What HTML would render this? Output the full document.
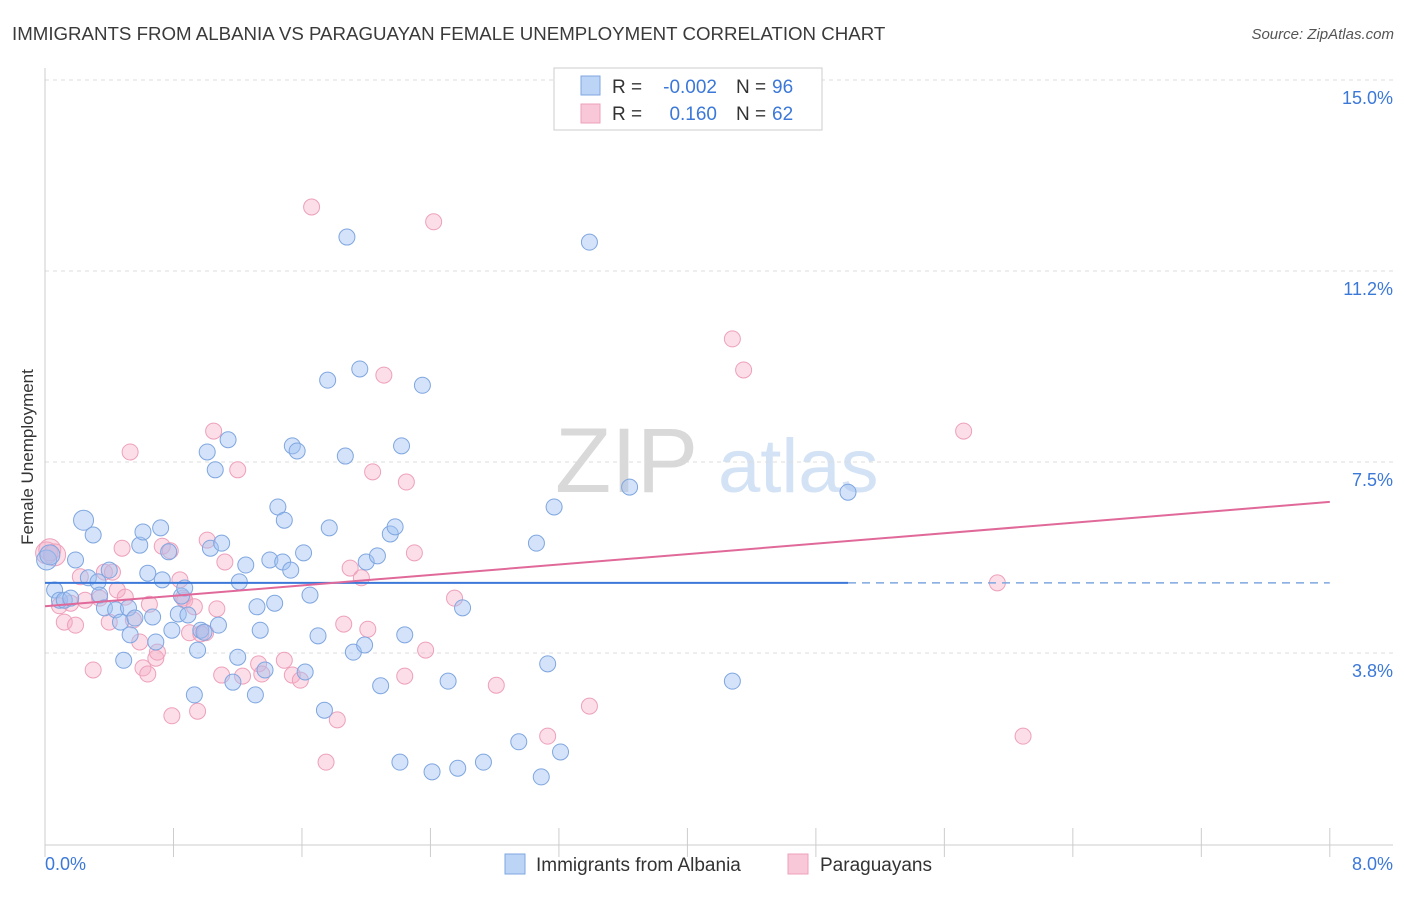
<!DOCTYPE html>
<html><head><meta charset="utf-8"><style>
body{margin:0;background:#fff;font-family:"Liberation Sans",sans-serif;}
svg text{font-family:"Liberation Sans",sans-serif;}
</style></head><body>
<svg id="chart" width="1406" height="892" viewBox="0 0 1406 892" xmlns="http://www.w3.org/2000/svg">
<text x="12" y="40" font-size="18.7" fill="#3a3a3a">IMMIGRANTS FROM ALBANIA VS PARAGUAYAN FEMALE UNEMPLOYMENT CORRELATION CHART</text>
<text x="1394" y="39" font-size="15" fill="#555" font-style="italic" text-anchor="end">Source: ZipAtlas.com</text>
<text x="33" y="457" font-size="17" fill="#333" text-anchor="middle" transform="rotate(-90 33 457)">Female Unemployment</text>
<g>
<text x="555" y="492" font-size="92" fill="#d9d9d9" font-family="Liberation Serif">ZIP</text>
<text x="718" y="492" font-size="76" fill="#d3e2f5">atlas</text>
</g>
<g id="grid"></g><g id="axes"></g><g id="pinkPts"></g><g id="bluePts"></g><g id="lines"></g>
<g>
<rect x="554" y="68" width="268" height="62" fill="#fff" stroke="#ccc"/>
<rect x="581" y="76" width="19" height="19" fill="#bcd4f6" stroke="#7fa6e0"/>
<text x="612" y="93" font-size="19" fill="#333">R =</text>
<text x="717" y="93" font-size="19" fill="#3b78d8" text-anchor="end">-0.002</text>
<text x="736" y="93" font-size="19" fill="#333">N =</text>
<text x="772" y="93" font-size="19" fill="#3b78d8">96</text>
<rect x="581" y="104" width="19" height="19" fill="#f8c8d8" stroke="#eea0bb"/>
<text x="612" y="120" font-size="19" fill="#333">R =</text>
<text x="717" y="120" font-size="19" fill="#3b78d8" text-anchor="end">0.160</text>
<text x="736" y="120" font-size="19" fill="#333">N =</text>
<text x="772" y="120" font-size="19" fill="#3b78d8">62</text>
</g>
<g>
<rect x="505" y="854" width="20" height="20" fill="#bcd4f6" stroke="#7fa6e0"/>
<text x="536" y="871" font-size="19" fill="#333">Immigrants from Albania</text>
<rect x="788" y="854" width="20" height="20" fill="#f8c8d8" stroke="#eea0bb"/>
<text x="820" y="871" font-size="19" fill="#333">Paraguayans</text>
</g>
</svg>
<script>
const yTicks=[15.0,11.25,7.5,3.75];
const yTickLabels=["15.0%","11.2%","7.5%","3.8%"];
const xTicks=[0,0.8,1.6,2.4,3.2,4.0,4.8,5.6,6.4,7.2,8.0];
const blueX=[0.01,0.03,0.06,0.09,0.12,0.16,0.19,0.24,0.27,0.30,0.33,0.34,0.37,0.40,0.44,0.47,0.49,0.52,0.53,0.56,0.59,0.61,0.64,0.67,0.69,0.72,0.73,0.77,0.79,0.83,0.85,0.87,0.89,0.93,0.95,0.97,0.99,1.01,1.03,1.06,1.08,1.10,1.14,1.17,1.20,1.21,1.25,1.31,1.32,1.34,1.37,1.40,1.43,1.45,1.48,1.49,1.53,1.54,1.57,1.61,1.62,1.65,1.70,1.74,1.76,1.77,1.87,1.88,1.92,1.96,1.99,2.00,2.07,2.09,2.15,2.18,2.21,2.22,2.24,2.35,2.41,2.51,2.57,2.60,2.73,2.95,3.06,3.09,3.13,3.17,3.21,3.39,3.64,4.28,5.00];
const blueY=[5.91,6.01,5.32,5.12,5.12,5.16,5.91,6.69,5.56,6.40,5.48,5.22,4.97,5.71,4.93,4.69,3.94,4.97,4.44,4.77,6.20,6.46,5.65,4.79,4.30,6.54,5.52,6.07,4.53,4.85,5.20,5.36,4.83,3.26,4.14,4.53,4.49,8.03,6.14,7.68,4.63,6.24,8.27,3.51,4.00,5.48,5.81,3.26,4.99,4.53,3.75,5.91,5.06,6.95,5.87,6.69,5.71,8.15,8.05,6.05,3.71,5.22,4.42,2.96,9.44,6.54,7.95,12.25,4.10,9.66,4.24,5.87,5.99,3.44,6.42,6.56,1.94,8.15,4.44,9.34,1.75,3.53,1.82,4.97,1.94,2.34,6.24,1.65,3.87,6.95,2.14,12.15,7.34,3.53,7.24];
const pinkX=[0.01,0.03,0.06,0.09,0.12,0.16,0.19,0.22,0.25,0.30,0.34,0.37,0.40,0.42,0.45,0.48,0.50,0.53,0.55,0.59,0.61,0.64,0.65,0.69,0.70,0.73,0.78,0.79,0.84,0.86,0.87,0.90,0.93,0.95,0.97,1.00,1.01,1.05,1.07,1.10,1.12,1.20,1.23,1.33,1.35,1.49,1.54,1.59,1.66,1.75,1.82,1.86,1.90,1.97,2.01,2.04,2.11,2.24,2.25,2.30,2.37,2.42,2.55,2.81,3.13,3.39,4.28,4.35,5.72,5.93,6.09];
const pinkY=[6.05,6.11,6.01,5.01,4.69,5.06,4.63,5.58,5.12,3.75,5.16,5.67,4.69,5.67,5.32,6.14,5.18,8.03,4.73,4.30,3.79,3.67,5.04,3.98,4.10,6.18,6.09,2.85,5.52,5.16,5.12,4.48,4.99,2.94,4.46,4.48,6.30,8.44,4.95,3.65,5.87,7.68,3.63,3.87,3.67,3.94,3.65,3.55,12.84,1.94,2.77,4.65,5.75,5.56,4.55,7.64,9.54,3.63,7.44,6.05,4.14,12.55,5.16,3.45,2.45,3.04,10.25,9.64,8.44,5.46,2.45];
const blueTrend=[5.46,5.46];
const pinkTrend=[5.00,7.05];
const blueTrendEnd=5.0;
const NS="http://www.w3.org/2000/svg";
const xS=v=>45+v*160.6;
const yS=v=>97+(15-v)*50.93;
function mk(parent,tag,attrs){const e=document.createElementNS(NS,tag);for(const k in attrs)e.setAttribute(k,attrs[k]);document.getElementById(parent).appendChild(e);return e;}
yTicks.forEach((t,i)=>{
 const g=mk('grid','line',{x1:45,x2:1393,y1:yS(t)-17,y2:yS(t)-17,stroke:'#dcdcdc','stroke-dasharray':'4 4'});
 
 
 const l=mk('axes','text',{x:1393,y:yS(t)+7,'font-size':18,fill:'#3b78d8','text-anchor':'end'});
 l.textContent=yTickLabels[i];
 
 
});
const ax=mk('axes','line',{x1:45,x2:1393,y1:845,y2:845,stroke:'#ccc'});


const ay=mk('axes','line',{x1:45,x2:45,y1:68,y2:845,stroke:'#ccc'});


xTicks.forEach(t=>{const k=mk('axes','line',{x1:xS(t),x2:xS(t),y1:828,y2:857,stroke:'#ccc'});
 
 });
const xl0=mk('axes','text',{x:45,y:870,'font-size':18,fill:'#3b78d8'});xl0.textContent=xTicks[0].toFixed(1)+'%';


const xl1=mk('axes','text',{x:1393,y:870,'font-size':18,fill:'#3b78d8','text-anchor':'end'});xl1.textContent=xTicks[xTicks.length-1].toFixed(1)+'%';


for(let i=0;i<Math.min(pinkX.length,pinkY.length);i++){
 const c=mk('pinkPts','circle',{cx:xS(pinkX[i]),cy:yS(pinkY[i]),r:i<3?11:8,fill:'rgba(246,172,198,0.4)',stroke:'#eea0bb','stroke-width':1});
 
 
}
for(let i=0;i<Math.min(blueX.length,blueY.length);i++){
 const c=mk('bluePts','circle',{cx:xS(blueX[i]),cy:yS(blueY[i]),r:(i<2||i==7)?10:8,fill:'rgba(160,192,242,0.45)',stroke:'#7fa6e0','stroke-width':1});
 
 
}
const bl=mk('lines','line',{x1:xS(0),x2:xS(blueTrendEnd),y1:yS(blueTrend[0]),y2:yS(blueTrend[1]),stroke:'#3b78d8','stroke-width':2});


const bd=mk('lines','line',{x1:xS(blueTrendEnd),x2:xS(8),y1:yS(blueTrend[1]),y2:yS(blueTrend[1]),stroke:'#7fa6e0','stroke-width':1.5,'stroke-dasharray':'8 6'});


const pl=mk('lines','line',{x1:xS(0),x2:xS(8),y1:yS(pinkTrend[0]),y2:yS(pinkTrend[1]),stroke:'#e0699a','stroke-width':2});


</script>
</body></html>
